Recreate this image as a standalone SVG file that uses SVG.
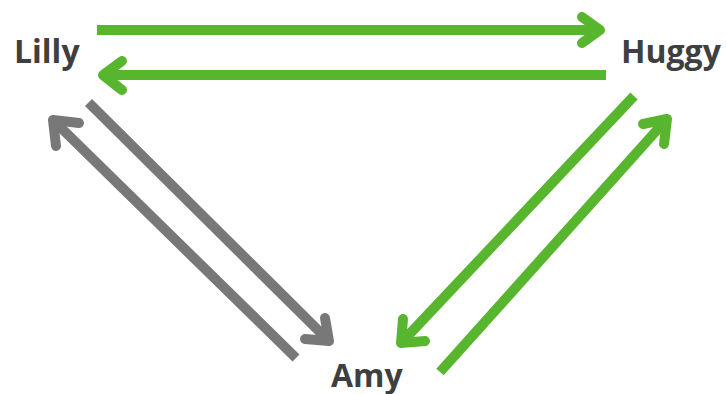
<svg xmlns="http://www.w3.org/2000/svg" width="726" height="394" viewBox="0 0 726 394">
  <defs>
    <style>
      .lbl { font-family: "Open Sans", "Liberation Sans", sans-serif; font-weight: 700; font-size: 32px; fill: #3f3f3f; }
      .shaft { fill: none; stroke-width: 10; stroke-linecap: butt; }
      .head { fill: none; stroke-width: 10; stroke-linecap: round; stroke-linejoin: round; }
      .green { stroke: #58b52e; }
      .gray { stroke: #787878; }
    </style>
  </defs>
  <rect width="726" height="394" fill="#ffffff"/>

  <g id="connectors">
    <!-- Lilly -> Huggy -->
    <g id="lilly-huggy">
      <line class="shaft green" x1="97" y1="30" x2="599" y2="30"/>
      <polyline class="head green" points="582,17 600,30 582,43"/>
    </g>
    <!-- Huggy -> Lilly -->
    <g id="huggy-lilly">
      <line class="shaft green" x1="606" y1="75" x2="104" y2="75"/>
      <polyline class="head green" points="122,61 103,75 122,90"/>
    </g>
    <!-- Lilly -> Amy -->
    <g id="lilly-amy">
      <line class="shaft gray" x1="88.5" y1="102.5" x2="328" y2="340"/>
      <polyline class="head gray" points="325,318 329,341 305,339"/>
    </g>
    <!-- Amy -> Lilly -->
    <g id="amy-lilly">
      <line class="shaft gray" x1="296" y1="358" x2="54" y2="121"/>
      <polyline class="head gray" points="79,123 53,120 56,146"/>
    </g>
    <!-- Huggy -> Amy -->
    <g id="huggy-amy">
      <line class="shaft green" x1="634" y1="96" x2="402" y2="342"/>
      <polyline class="head green" points="403,319 401,343 425,341"/>
    </g>
    <!-- Amy -> Huggy -->
    <g id="amy-huggy">
      <line class="shaft green" x1="440" y1="372" x2="666" y2="120"/>
      <polyline class="head green" points="643,124 667,119 664,144"/>
    </g>
  </g>

  <g id="node-lilly">
    <text class="lbl" x="14" y="63">Lilly</text>
  </g>
  <g id="node-huggy">
    <text class="lbl" x="621" y="63">Huggy</text>
  </g>
  <g id="node-amy">
    <text class="lbl" x="331" y="387">Amy</text>
  </g>
</svg>
